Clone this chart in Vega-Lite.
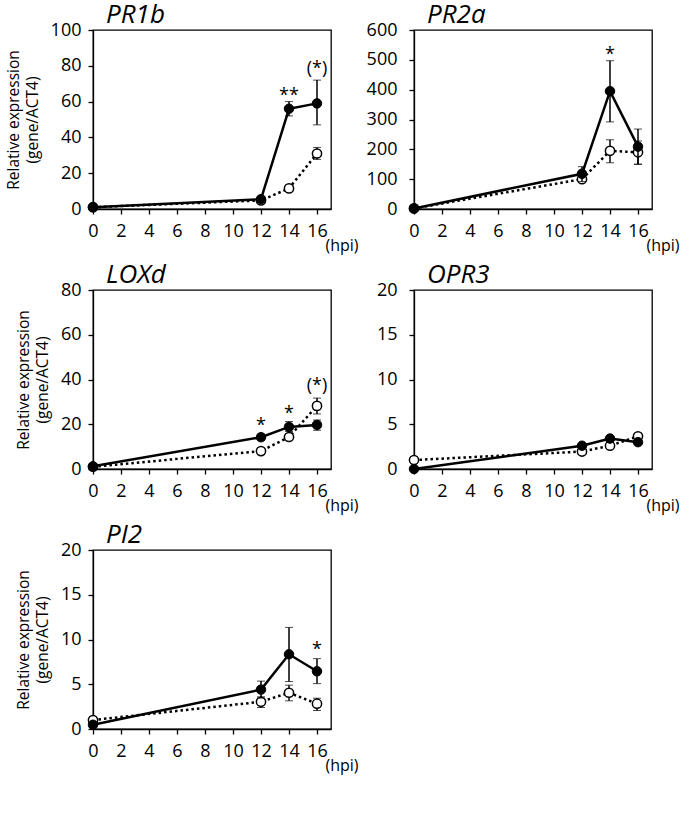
{
  "$schema": "https://vega.github.io/schema/vega-lite/v6.json",
  "background": "white",
  "padding": {"left": 5, "top": 1, "right": 5, "bottom": 5},
  "autosize": {"type": "pad"},
  "config": {
    "font": "Open Sans",
    "view": {"stroke": "black", "strokeWidth": 1.3},
    "axis": {"grid": false, "domainColor": "black", "tickColor": "black", "labelColor": "black", "titleColor": "black", "tickSize": 5, "labelFontSize": 18, "titleFontWeight": "normal", "domainWidth": 1.3, "tickWidth": 1.3, "labelFont": "Open Sans", "titleFont": "Open Sans", "labelOverlap": false, "labelFlush": false},
    "axisY": {"labelPadding": 7, "titleFontSize": 15.5, "titlePadding": 10, "titleLineHeight": 19},
    "axisX": {"labelPadding": 8, "titleFontSize": 16, "titleX": 232, "titleY": 41, "titleAlign": "left", "titleBaseline": "alphabetic"},
    "title": {"fontSize": 26, "fontStyle": "italic", "fontWeight": "normal", "anchor": "start", "frame": "group", "dx": 13, "dy": 11, "offset": 0, "baseline": "alphabetic", "color": "black", "font": "Open Sans"}
  },
  "datasets": {
    "series": [
      {"gene": "PR1b", "hpi": 0, "g": "filled", "v": 1.0, "lo": 1.0, "hi": 1.0},
      {"gene": "PR1b", "hpi": 12, "g": "filled", "v": 5.5, "lo": 5.0, "hi": 6.0},
      {"gene": "PR1b", "hpi": 14, "g": "filled", "v": 56, "lo": 52, "hi": 60},
      {"gene": "PR1b", "hpi": 16, "g": "filled", "v": 59, "lo": 47, "hi": 72},
      {"gene": "PR1b", "hpi": 0, "g": "open", "v": 1.0, "lo": 1.0, "hi": 1.0},
      {"gene": "PR1b", "hpi": 12, "g": "open", "v": 4.8, "lo": 4.3, "hi": 5.3},
      {"gene": "PR1b", "hpi": 14, "g": "open", "v": 11.5, "lo": 10.5, "hi": 12.5},
      {"gene": "PR1b", "hpi": 16, "g": "open", "v": 31, "lo": 27.7, "hi": 34.4},
      {"gene": "PR2a", "hpi": 0, "g": "filled", "v": 2, "lo": 2, "hi": 2},
      {"gene": "PR2a", "hpi": 12, "g": "filled", "v": 118, "lo": 92, "hi": 142},
      {"gene": "PR2a", "hpi": 14, "g": "filled", "v": 395, "lo": 292, "hi": 497},
      {"gene": "PR2a", "hpi": 16, "g": "filled", "v": 209, "lo": 150, "hi": 268},
      {"gene": "PR2a", "hpi": 0, "g": "open", "v": 2, "lo": 2, "hi": 2},
      {"gene": "PR2a", "hpi": 12, "g": "open", "v": 100, "lo": 92, "hi": 108},
      {"gene": "PR2a", "hpi": 14, "g": "open", "v": 195, "lo": 155, "hi": 232},
      {"gene": "PR2a", "hpi": 16, "g": "open", "v": 190, "lo": 150, "hi": 228},
      {"gene": "LOXd", "hpi": 0, "g": "filled", "v": 1.2, "lo": 1.2, "hi": 1.2},
      {"gene": "LOXd", "hpi": 12, "g": "filled", "v": 14.2, "lo": 12.8, "hi": 15.6},
      {"gene": "LOXd", "hpi": 14, "g": "filled", "v": 18.8, "lo": 16.8, "hi": 21.2},
      {"gene": "LOXd", "hpi": 16, "g": "filled", "v": 19.7, "lo": 17.3, "hi": 21.9},
      {"gene": "LOXd", "hpi": 0, "g": "open", "v": 1.0, "lo": 1.0, "hi": 1.0},
      {"gene": "LOXd", "hpi": 12, "g": "open", "v": 8.0, "lo": 7.4, "hi": 8.6},
      {"gene": "LOXd", "hpi": 14, "g": "open", "v": 14.3, "lo": 13.3, "hi": 15.3},
      {"gene": "LOXd", "hpi": 16, "g": "open", "v": 28.2, "lo": 24.6, "hi": 31.7},
      {"gene": "OPR3", "hpi": 0, "g": "filled", "v": 0.0, "lo": 0.0, "hi": 0.0},
      {"gene": "OPR3", "hpi": 12, "g": "filled", "v": 2.6, "lo": 2.45, "hi": 2.75},
      {"gene": "OPR3", "hpi": 14, "g": "filled", "v": 3.4, "lo": 3.25, "hi": 3.55},
      {"gene": "OPR3", "hpi": 16, "g": "filled", "v": 3.0, "lo": 2.85, "hi": 3.15},
      {"gene": "OPR3", "hpi": 0, "g": "open", "v": 1.0, "lo": 1.0, "hi": 1.0},
      {"gene": "OPR3", "hpi": 12, "g": "open", "v": 1.95, "lo": 1.8, "hi": 2.1},
      {"gene": "OPR3", "hpi": 14, "g": "open", "v": 2.6, "lo": 2.45, "hi": 2.75},
      {"gene": "OPR3", "hpi": 16, "g": "open", "v": 3.65, "lo": 3.45, "hi": 3.85},
      {"gene": "PI2", "hpi": 0, "g": "filled", "v": 0.47, "lo": 0.47, "hi": 0.47},
      {"gene": "PI2", "hpi": 12, "g": "filled", "v": 4.4, "lo": 3.45, "hi": 5.35},
      {"gene": "PI2", "hpi": 14, "g": "filled", "v": 8.35, "lo": 5.3, "hi": 11.35},
      {"gene": "PI2", "hpi": 16, "g": "filled", "v": 6.45, "lo": 5.07, "hi": 7.86},
      {"gene": "PI2", "hpi": 0, "g": "open", "v": 1.0, "lo": 1.0, "hi": 1.0},
      {"gene": "PI2", "hpi": 12, "g": "open", "v": 3.04, "lo": 2.4, "hi": 3.6},
      {"gene": "PI2", "hpi": 14, "g": "open", "v": 4.05, "lo": 3.15, "hi": 4.9},
      {"gene": "PI2", "hpi": 16, "g": "open", "v": 2.83, "lo": 2.07, "hi": 3.44}
    ],
    "annots": [
      {"gene": "PR1b", "hpi": 14, "pos": 63, "label": "**"},
      {"gene": "PR1b", "hpi": 16, "pos": 78, "label": "(*)"},
      {"gene": "PR2a", "hpi": 14, "pos": 515, "label": "*"},
      {"gene": "LOXd", "hpi": 12, "pos": 19, "label": "*"},
      {"gene": "LOXd", "hpi": 14, "pos": 24.5, "label": "*"},
      {"gene": "LOXd", "hpi": 16, "pos": 37, "label": "(*)"},
      {"gene": "PI2", "hpi": 16, "pos": 8.8, "label": "*"}
    ]
  },
  "columns": 2,
  "bounds": "flush",
  "spacing": {"row": 81, "column": 83},
  "concat": [
    {
      "width": 238, "height": 179,
      "title": {"text": "PR1b"},
      "data": {"name": "series"},
      "encoding": {"x": {"field": "hpi", "type": "quantitative", "title": "(hpi)", "scale": {"domain": [0, 17], "nice": false}, "axis": {"values": [0, 2, 4, 6, 8, 10, 12, 14, 16], "tickCount": 20}}},
      "layer": [
        {"transform": [{"filter": "datum.gene === 'PR1b' && datum.g === 'open'"}], "mark": {"type": "line", "color": "black", "strokeWidth": 2.5, "strokeDash": [2.5, 3]}, "encoding": {"y": {"field": "v", "type": "quantitative", "title": ["Relative expression", "(gene/ACT4)"], "scale": {"domain": [0, 100], "nice": false}, "axis": {"values": [0, 20, 40, 60, 80, 100], "tickCount": 20}}}},
        {"transform": [{"filter": "datum.gene === 'PR1b' && datum.g === 'open'"}], "mark": {"type": "errorbar", "color": "black", "ticks": {"size": 8, "color": "black", "strokeWidth": 1.5}, "rule": {"strokeWidth": 1.5, "color": "black"}}, "encoding": {"y": {"field": "lo", "type": "quantitative", "title": ["Relative expression", "(gene/ACT4)"], "scale": {"domain": [0, 100], "nice": false}}, "y2": {"field": "hi"}}},
        {"transform": [{"filter": "datum.gene === 'PR1b' && datum.g === 'open'"}], "mark": {"type": "point", "shape": "circle", "filled": true, "fill": "white", "stroke": "black", "strokeWidth": 1.5, "size": 85, "opacity": 1}, "encoding": {"y": {"field": "v", "type": "quantitative", "title": ["Relative expression", "(gene/ACT4)"], "scale": {"domain": [0, 100], "nice": false}}}},
        {"transform": [{"filter": "datum.gene === 'PR1b' && datum.g === 'filled'"}], "mark": {"type": "line", "color": "black", "strokeWidth": 2.5}, "encoding": {"y": {"field": "v", "type": "quantitative", "title": ["Relative expression", "(gene/ACT4)"], "scale": {"domain": [0, 100], "nice": false}}}},
        {"transform": [{"filter": "datum.gene === 'PR1b' && datum.g === 'filled'"}], "mark": {"type": "errorbar", "color": "black", "ticks": {"size": 8, "color": "black", "strokeWidth": 1.5}, "rule": {"strokeWidth": 1.5, "color": "black"}}, "encoding": {"y": {"field": "lo", "type": "quantitative", "title": ["Relative expression", "(gene/ACT4)"], "scale": {"domain": [0, 100], "nice": false}}, "y2": {"field": "hi"}}},
        {"transform": [{"filter": "datum.gene === 'PR1b' && datum.g === 'filled'"}], "mark": {"type": "point", "shape": "circle", "filled": true, "fill": "black", "stroke": "black", "strokeWidth": 1, "size": 90, "opacity": 1}, "encoding": {"y": {"field": "v", "type": "quantitative", "title": ["Relative expression", "(gene/ACT4)"], "scale": {"domain": [0, 100], "nice": false}}}},
        {"data": {"name": "annots"}, "transform": [{"filter": "datum.gene === 'PR1b'"}], "mark": {"type": "text", "fontSize": 18, "color": "black", "baseline": "middle"}, "encoding": {"y": {"field": "pos", "type": "quantitative", "title": ["Relative expression", "(gene/ACT4)"], "scale": {"domain": [0, 100], "nice": false}}, "text": {"field": "label"}}}
      ]
    },
    {
      "width": 238, "height": 179,
      "title": {"text": "PR2a"},
      "data": {"name": "series"},
      "encoding": {"x": {"field": "hpi", "type": "quantitative", "title": "(hpi)", "scale": {"domain": [0, 17], "nice": false}, "axis": {"values": [0, 2, 4, 6, 8, 10, 12, 14, 16], "tickCount": 20}}},
      "layer": [
        {"transform": [{"filter": "datum.gene === 'PR2a' && datum.g === 'open'"}], "mark": {"type": "line", "color": "black", "strokeWidth": 2.5, "strokeDash": [2.5, 3]}, "encoding": {"y": {"field": "v", "type": "quantitative", "title": null, "scale": {"domain": [0, 600], "nice": false}, "axis": {"values": [0, 100, 200, 300, 400, 500, 600], "tickCount": 20, "labelPadding": 12}}}},
        {"transform": [{"filter": "datum.gene === 'PR2a' && datum.g === 'open'"}], "mark": {"type": "errorbar", "color": "black", "ticks": {"size": 8, "color": "black", "strokeWidth": 1.5}, "rule": {"strokeWidth": 1.5, "color": "black"}}, "encoding": {"y": {"field": "lo", "type": "quantitative", "title": null, "scale": {"domain": [0, 600], "nice": false}}, "y2": {"field": "hi"}}},
        {"transform": [{"filter": "datum.gene === 'PR2a' && datum.g === 'open'"}], "mark": {"type": "point", "shape": "circle", "filled": true, "fill": "white", "stroke": "black", "strokeWidth": 1.5, "size": 85, "opacity": 1}, "encoding": {"y": {"field": "v", "type": "quantitative", "title": null, "scale": {"domain": [0, 600], "nice": false}}}},
        {"transform": [{"filter": "datum.gene === 'PR2a' && datum.g === 'filled'"}], "mark": {"type": "line", "color": "black", "strokeWidth": 2.5}, "encoding": {"y": {"field": "v", "type": "quantitative", "title": null, "scale": {"domain": [0, 600], "nice": false}}}},
        {"transform": [{"filter": "datum.gene === 'PR2a' && datum.g === 'filled'"}], "mark": {"type": "errorbar", "color": "black", "ticks": {"size": 8, "color": "black", "strokeWidth": 1.5}, "rule": {"strokeWidth": 1.5, "color": "black"}}, "encoding": {"y": {"field": "lo", "type": "quantitative", "title": null, "scale": {"domain": [0, 600], "nice": false}}, "y2": {"field": "hi"}}},
        {"transform": [{"filter": "datum.gene === 'PR2a' && datum.g === 'filled'"}], "mark": {"type": "point", "shape": "circle", "filled": true, "fill": "black", "stroke": "black", "strokeWidth": 1, "size": 90, "opacity": 1}, "encoding": {"y": {"field": "v", "type": "quantitative", "title": null, "scale": {"domain": [0, 600], "nice": false}}}},
        {"data": {"name": "annots"}, "transform": [{"filter": "datum.gene === 'PR2a'"}], "mark": {"type": "text", "fontSize": 18, "color": "black", "baseline": "middle"}, "encoding": {"y": {"field": "pos", "type": "quantitative", "title": null, "scale": {"domain": [0, 600], "nice": false}}, "text": {"field": "label"}}}
      ]
    },
    {
      "width": 238, "height": 179,
      "title": {"text": "LOXd"},
      "data": {"name": "series"},
      "encoding": {"x": {"field": "hpi", "type": "quantitative", "title": "(hpi)", "scale": {"domain": [0, 17], "nice": false}, "axis": {"values": [0, 2, 4, 6, 8, 10, 12, 14, 16], "tickCount": 20}}},
      "layer": [
        {"transform": [{"filter": "datum.gene === 'LOXd' && datum.g === 'open'"}], "mark": {"type": "line", "color": "black", "strokeWidth": 2.5, "strokeDash": [2.5, 3]}, "encoding": {"y": {"field": "v", "type": "quantitative", "title": ["Relative expression", "(gene/ACT4)"], "scale": {"domain": [0, 80], "nice": false}, "axis": {"values": [0, 20, 40, 60, 80], "tickCount": 20}}}},
        {"transform": [{"filter": "datum.gene === 'LOXd' && datum.g === 'open'"}], "mark": {"type": "errorbar", "color": "black", "ticks": {"size": 8, "color": "black", "strokeWidth": 1.5}, "rule": {"strokeWidth": 1.5, "color": "black"}}, "encoding": {"y": {"field": "lo", "type": "quantitative", "title": ["Relative expression", "(gene/ACT4)"], "scale": {"domain": [0, 80], "nice": false}}, "y2": {"field": "hi"}}},
        {"transform": [{"filter": "datum.gene === 'LOXd' && datum.g === 'open'"}], "mark": {"type": "point", "shape": "circle", "filled": true, "fill": "white", "stroke": "black", "strokeWidth": 1.5, "size": 85, "opacity": 1}, "encoding": {"y": {"field": "v", "type": "quantitative", "title": ["Relative expression", "(gene/ACT4)"], "scale": {"domain": [0, 80], "nice": false}}}},
        {"transform": [{"filter": "datum.gene === 'LOXd' && datum.g === 'filled'"}], "mark": {"type": "line", "color": "black", "strokeWidth": 2.5}, "encoding": {"y": {"field": "v", "type": "quantitative", "title": ["Relative expression", "(gene/ACT4)"], "scale": {"domain": [0, 80], "nice": false}}}},
        {"transform": [{"filter": "datum.gene === 'LOXd' && datum.g === 'filled'"}], "mark": {"type": "errorbar", "color": "black", "ticks": {"size": 8, "color": "black", "strokeWidth": 1.5}, "rule": {"strokeWidth": 1.5, "color": "black"}}, "encoding": {"y": {"field": "lo", "type": "quantitative", "title": ["Relative expression", "(gene/ACT4)"], "scale": {"domain": [0, 80], "nice": false}}, "y2": {"field": "hi"}}},
        {"transform": [{"filter": "datum.gene === 'LOXd' && datum.g === 'filled'"}], "mark": {"type": "point", "shape": "circle", "filled": true, "fill": "black", "stroke": "black", "strokeWidth": 1, "size": 90, "opacity": 1}, "encoding": {"y": {"field": "v", "type": "quantitative", "title": ["Relative expression", "(gene/ACT4)"], "scale": {"domain": [0, 80], "nice": false}}}},
        {"data": {"name": "annots"}, "transform": [{"filter": "datum.gene === 'LOXd'"}], "mark": {"type": "text", "fontSize": 18, "color": "black", "baseline": "middle"}, "encoding": {"y": {"field": "pos", "type": "quantitative", "title": ["Relative expression", "(gene/ACT4)"], "scale": {"domain": [0, 80], "nice": false}}, "text": {"field": "label"}}}
      ]
    },
    {
      "width": 238, "height": 179,
      "title": {"text": "OPR3"},
      "data": {"name": "series"},
      "encoding": {"x": {"field": "hpi", "type": "quantitative", "title": "(hpi)", "scale": {"domain": [0, 17], "nice": false}, "axis": {"values": [0, 2, 4, 6, 8, 10, 12, 14, 16], "tickCount": 20}}},
      "layer": [
        {"transform": [{"filter": "datum.gene === 'OPR3' && datum.g === 'open'"}], "mark": {"type": "line", "color": "black", "strokeWidth": 2.5, "strokeDash": [2.5, 3]}, "encoding": {"y": {"field": "v", "type": "quantitative", "title": null, "scale": {"domain": [0, 20], "nice": false}, "axis": {"values": [0, 5, 10, 15, 20], "tickCount": 20, "labelPadding": 12}}}},
        {"transform": [{"filter": "datum.gene === 'OPR3' && datum.g === 'open'"}], "mark": {"type": "errorbar", "color": "black", "ticks": {"size": 8, "color": "black", "strokeWidth": 1.5}, "rule": {"strokeWidth": 1.5, "color": "black"}}, "encoding": {"y": {"field": "lo", "type": "quantitative", "title": null, "scale": {"domain": [0, 20], "nice": false}}, "y2": {"field": "hi"}}},
        {"transform": [{"filter": "datum.gene === 'OPR3' && datum.g === 'open'"}], "mark": {"type": "point", "shape": "circle", "filled": true, "fill": "white", "stroke": "black", "strokeWidth": 1.5, "size": 85, "opacity": 1}, "encoding": {"y": {"field": "v", "type": "quantitative", "title": null, "scale": {"domain": [0, 20], "nice": false}}}},
        {"transform": [{"filter": "datum.gene === 'OPR3' && datum.g === 'filled'"}], "mark": {"type": "line", "color": "black", "strokeWidth": 2.5}, "encoding": {"y": {"field": "v", "type": "quantitative", "title": null, "scale": {"domain": [0, 20], "nice": false}}}},
        {"transform": [{"filter": "datum.gene === 'OPR3' && datum.g === 'filled'"}], "mark": {"type": "errorbar", "color": "black", "ticks": {"size": 8, "color": "black", "strokeWidth": 1.5}, "rule": {"strokeWidth": 1.5, "color": "black"}}, "encoding": {"y": {"field": "lo", "type": "quantitative", "title": null, "scale": {"domain": [0, 20], "nice": false}}, "y2": {"field": "hi"}}},
        {"transform": [{"filter": "datum.gene === 'OPR3' && datum.g === 'filled'"}], "mark": {"type": "point", "shape": "circle", "filled": true, "fill": "black", "stroke": "black", "strokeWidth": 1, "size": 90, "opacity": 1}, "encoding": {"y": {"field": "v", "type": "quantitative", "title": null, "scale": {"domain": [0, 20], "nice": false}}}}
      ]
    },
    {
      "width": 238, "height": 179,
      "title": {"text": "PI2"},
      "data": {"name": "series"},
      "encoding": {"x": {"field": "hpi", "type": "quantitative", "title": "(hpi)", "scale": {"domain": [0, 17], "nice": false}, "axis": {"values": [0, 2, 4, 6, 8, 10, 12, 14, 16], "tickCount": 20}}},
      "layer": [
        {"transform": [{"filter": "datum.gene === 'PI2' && datum.g === 'open'"}], "mark": {"type": "line", "color": "black", "strokeWidth": 2.5, "strokeDash": [2.5, 3]}, "encoding": {"y": {"field": "v", "type": "quantitative", "title": ["Relative expression", "(gene/ACT4)"], "scale": {"domain": [0, 20], "nice": false}, "axis": {"values": [0, 5, 10, 15, 20], "tickCount": 20}}}},
        {"transform": [{"filter": "datum.gene === 'PI2' && datum.g === 'open'"}], "mark": {"type": "errorbar", "color": "black", "ticks": {"size": 8, "color": "black", "strokeWidth": 1.5}, "rule": {"strokeWidth": 1.5, "color": "black"}}, "encoding": {"y": {"field": "lo", "type": "quantitative", "title": ["Relative expression", "(gene/ACT4)"], "scale": {"domain": [0, 20], "nice": false}}, "y2": {"field": "hi"}}},
        {"transform": [{"filter": "datum.gene === 'PI2' && datum.g === 'open'"}], "mark": {"type": "point", "shape": "circle", "filled": true, "fill": "white", "stroke": "black", "strokeWidth": 1.5, "size": 85, "opacity": 1}, "encoding": {"y": {"field": "v", "type": "quantitative", "title": ["Relative expression", "(gene/ACT4)"], "scale": {"domain": [0, 20], "nice": false}}}},
        {"transform": [{"filter": "datum.gene === 'PI2' && datum.g === 'filled'"}], "mark": {"type": "line", "color": "black", "strokeWidth": 2.5}, "encoding": {"y": {"field": "v", "type": "quantitative", "title": ["Relative expression", "(gene/ACT4)"], "scale": {"domain": [0, 20], "nice": false}}}},
        {"transform": [{"filter": "datum.gene === 'PI2' && datum.g === 'filled'"}], "mark": {"type": "errorbar", "color": "black", "ticks": {"size": 8, "color": "black", "strokeWidth": 1.5}, "rule": {"strokeWidth": 1.5, "color": "black"}}, "encoding": {"y": {"field": "lo", "type": "quantitative", "title": ["Relative expression", "(gene/ACT4)"], "scale": {"domain": [0, 20], "nice": false}}, "y2": {"field": "hi"}}},
        {"transform": [{"filter": "datum.gene === 'PI2' && datum.g === 'filled'"}], "mark": {"type": "point", "shape": "circle", "filled": true, "fill": "black", "stroke": "black", "strokeWidth": 1, "size": 90, "opacity": 1}, "encoding": {"y": {"field": "v", "type": "quantitative", "title": ["Relative expression", "(gene/ACT4)"], "scale": {"domain": [0, 20], "nice": false}}}},
        {"data": {"name": "annots"}, "transform": [{"filter": "datum.gene === 'PI2'"}], "mark": {"type": "text", "fontSize": 18, "color": "black", "baseline": "middle"}, "encoding": {"y": {"field": "pos", "type": "quantitative", "title": ["Relative expression", "(gene/ACT4)"], "scale": {"domain": [0, 20], "nice": false}}, "text": {"field": "label"}}}
      ]
    }
  ]
}
